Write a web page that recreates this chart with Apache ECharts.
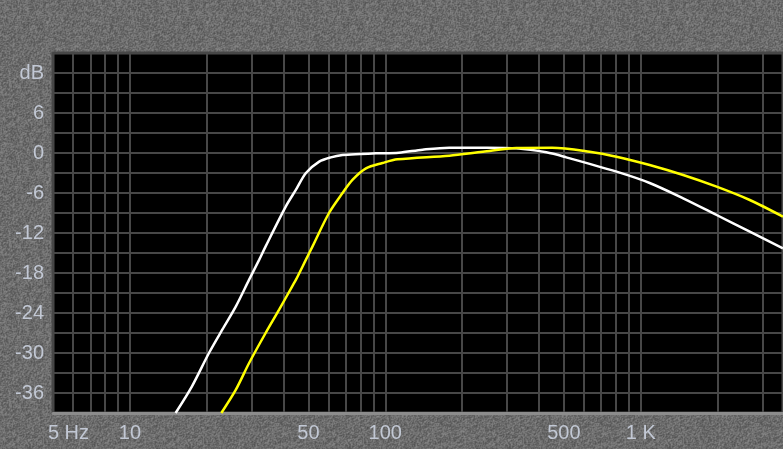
<!DOCTYPE html>
<html>
<head>
<meta charset="utf-8">
<script src="https://cdn.jsdelivr.net/npm/echarts@6/dist/echarts.min.js"></script>
<style>
  html, body { margin: 0; padding: 0; width: 783px; height: 449px; overflow: hidden; background: #6e6e6e; }
  #chart { width: 783px; height: 449px; }
</style>
</head>
<body>
<div id="chart"></div>
<script>
// ---- Data ----
const whiteFreq = [15.1, 17.5, 20.4, 23.0, 26.0, 29.3, 32.1, 34.0, 40.8, 44.7, 48.9, 55.1, 61.2, 68.0, 80, 91.9, 113, 140, 178, 250, 326, 427, 511, 804, 1084, 1466, 1982, 2673, 3606];
const whiteDb   = [-39, -35.0, -30.0, -26.5, -23.0, -19.0, -16.0, -14.0, -8.0, -5.5, -3.0, -1.3, -0.65, -0.3, -0.15, -0.05, 0.05, 0.5, 0.8, 0.8, 0.7, 0.1, -0.65, -2.8, -4.5, -6.8, -9.3, -11.8, -14.3];

const yellowFreq = [22.8, 26.0, 29.3, 34.0, 38.4, 43.2, 44.7, 48.9, 51.9, 60.2, 68.0, 74.5, 84.0, 97.5, 111.6, 178, 241, 326, 450, 631, 804, 1084, 1466, 1982, 2673, 3606];
const yellowDb   = [-39, -35.5, -31.5, -27.0, -23.5, -20.0, -19.0, -16.0, -14.0, -9.0, -6.0, -4.0, -2.3, -1.5, -0.95, -0.4, 0.2, 0.75, 0.8, 0.2, -0.55, -1.8, -3.3, -5.05, -7.05, -9.55];

// x grid lines (Hz) and x tick labels
const xGridFreqs = [5, 6, 7, 8, 9, 10, 20, 30, 40, 50, 60, 70, 80, 90, 100, 200, 300, 400, 500, 600, 700, 800, 900, 1000, 2000, 3000];
const xLabelValues = [5, 10, 50, 100, 500, 1000];
const xLabelTexts  = ['5 Hz', '10', '50', '100', '500', '1 K'];
const xMin = 5, xMax = 3606;

// y tick labels
const yLabelValues = [12, 6, 0, -6, -12, -18, -24, -30, -36];
const yLabelTexts  = ['dB', '6', '0', '-6', '-12', '-18', '-24', '-30', '-36'];

// ---- Background texture (decorative only) ----
(function () {
  const W = 160;
  const c = document.createElement('canvas');
  c.width = W; c.height = W;
  const ctx = c.getContext('2d');
  const img = ctx.createImageData(W, W);
  let s = 12345;
  function rnd() { s = (s * 1103515245 + 12345) & 0x7fffffff; return s / 0x7fffffff; }
  const base = new Float32Array(W * W);
  for (let i = 0; i < W * W; i++) base[i] = rnd() - 0.5;
  for (let y = 0; y < W; y++) {
    for (let x = 0; x < W; x++) {
      const i = y * W + x;
      const r = base[((y + 1) % W) * W + x] + base[y * W + (x + 1) % W];
      const v = Math.round(108 + base[i] * 30 + r * 14);
      img.data[i * 4] = v; img.data[i * 4 + 1] = v; img.data[i * 4 + 2] = v; img.data[i * 4 + 3] = 255;
    }
  }
  ctx.putImageData(img, 0, 0);
  document.body.style.backgroundImage = 'url(' + c.toDataURL() + ')';
})();

const zip = (a, b) => a.map((v, i) => [v, b[i]]);
const labelFont = '"Liberation Sans", Arial, sans-serif';
const labelColor = '#c2c8d4';

const chart = echarts.init(document.getElementById('chart'), null, { renderer: 'canvas' });
chart.setOption({
  animation: false,
  backgroundColor: 'transparent',
  grid: {
    left: 53, top: 53, right: 0, bottom: 36,
    show: true, backgroundColor: '#000000',
    borderColor: '#4a4a4a', borderWidth: 3
  },
  xAxis: {
    type: 'log', logBase: 10, min: xMin, max: xMax,
    axisLine: { show: true, onZero: false, lineStyle: { color: '#8c8c8c', width: 3 } },
    axisTick: { show: false, customValues: xGridFreqs },
    splitLine: { show: true, lineStyle: { color: '#474747', width: 2 } },
    minorSplitLine: { show: false },
    axisLabel: {
      show: true,
      customValues: xLabelValues,
      margin: 10,
      color: labelColor,
      fontFamily: labelFont,
      fontSize: 20,
      formatter: function (v) {
        const i = xLabelValues.findIndex(x => Math.abs(x - v) < 1e-6 * x);
        if (i < 0) return '';
        return i === 0 ? '{hz|' + xLabelTexts[i] + '}' : xLabelTexts[i];
      },
      rich: {
        hz: { padding: [0, 0, 0, 31], color: labelColor, fontFamily: labelFont, fontSize: 20 }
      }
    }
  },
  yAxis: {
    type: 'value', min: -39, max: 15, interval: 3,
    axisLine: { show: false },
    axisTick: { show: false },
    splitLine: { show: true, lineStyle: { color: '#474747', width: 2 } },
    axisLabel: {
      margin: 9,
      color: labelColor,
      fontFamily: labelFont,
      fontSize: 20,
      formatter: function (v) {
        const i = yLabelValues.indexOf(v);
        return i < 0 ? '' : yLabelTexts[i];
      }
    }
  },
  series: [
    {
      type: 'line', name: 'white',
      data: zip(whiteFreq, whiteDb),
      showSymbol: false, smooth: 0.3,
      lineStyle: { color: '#ffffff', width: 2.5 },
      z: 3
    },
    {
      type: 'line', name: 'yellow',
      data: zip(yellowFreq, yellowDb),
      showSymbol: false, smooth: 0.3,
      lineStyle: { color: '#ffff00', width: 2.5 },
      z: 4
    }
  ]
});
</script>
</body>
</html>
